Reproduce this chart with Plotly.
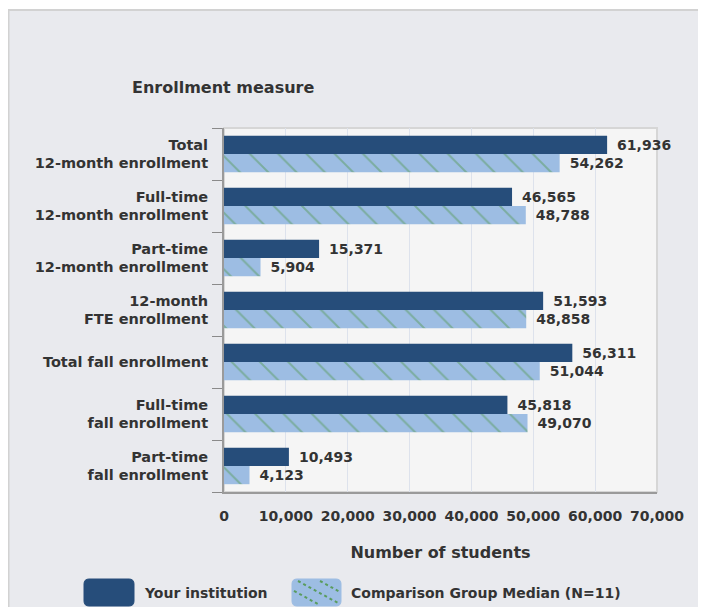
import plotly.graph_objects as go

categories = [
    "Total<br>12-month enrollment",
    "Full-time<br>12-month enrollment",
    "Part-time<br>12-month enrollment",
    "12-month<br>FTE enrollment",
    "Total fall enrollment",
    "Full-time<br>fall enrollment",
    "Part-time<br>fall enrollment",
]
your_institution = [61936, 46565, 15371, 51593, 56311, 45818, 10493]
comparison_median = [54262, 48788, 5904, 48858, 51044, 49070, 4123]
x_ticks = [0, 10000, 20000, 30000, 40000, 50000, 60000, 70000]

DARK = "#264d7a"
LIGHT = "#9dbde3"
DOTS = "#5a9c5e"
TEXT = "#333333"
FONT = "DejaVu Sans, Arial, sans-serif"

# the page body has an 8px margin, so the figure is 16px smaller than the window
OFF = 8
W, H = 706 - 2 * OFF, 615 - 2 * OFF
L, R, T, B = 224 - OFF, W - (657 - OFF), 128 - OFF, H - (492 - OFF)
PW, PH = W - L - R, H - T - B


def px(x):
    # window pixel -> paper x
    return (x - OFF - L) / PW


def py(y):
    # window pixel -> paper y
    return (H - B - (y - OFF)) / PH


fig = go.Figure()

fig.add_trace(go.Bar(
    y=categories,
    x=your_institution,
    orientation="h",
    name="Your institution",
    marker=dict(color=DARK, line=dict(width=0)),
    texttemplate="\u2002<b>%{x:,}</b>",
    textposition="outside",
    textfont=dict(family=FONT, size=14, color=TEXT),
    cliponaxis=False,
    showlegend=False,
))

fig.add_trace(go.Bar(
    y=categories,
    x=comparison_median,
    orientation="h",
    name="Comparison Group Median (N=11)",
    marker=dict(
        color=LIGHT,
        line=dict(width=0),
        pattern=dict(shape="\\", fgcolor=DOTS, bgcolor=LIGHT, size=20, solidity=0.1),
    ),
    texttemplate="\u2002<b>%{x:,}</b>",
    textposition="outside",
    textfont=dict(family=FONT, size=14, color=TEXT),
    cliponaxis=False,
    showlegend=False,
))

# -----------------------
# BACKGROUND PANEL
# -----------------------
shapes = [
    dict(type="rect", xref="paper", yref="paper", layer="below",
         x0=px(8.5), x1=px(720), y0=py(10), y1=py(630),
         fillcolor="#e9eaee", line=dict(color="#d2d2d2", width=2)),
    dict(type="rect", xref="paper", yref="paper", layer="below",
         x0=0, x1=1, y0=0, y1=1,
         fillcolor="#f5f5f5", line=dict(color="#d6d6d6", width=2)),
]

# -----------------------
# LEGEND (custom swatches)
# -----------------------
def rounded(x0, y0, x1, y1, rx, ry):
    return (f"M {x0 + rx},{y0} L {x1 - rx},{y0} Q {x1},{y0} {x1},{y0 - ry} "
            f"L {x1},{y1 + ry} Q {x1},{y1} {x1 - rx},{y1} L {x0 + rx},{y1} "
            f"Q {x0},{y1} {x0},{y1 + ry} L {x0},{y0 - ry} Q {x0},{y0} {x0 + rx},{y0} Z")


def swatch(x0, x1, color):
    return dict(type="path", xref="paper", yref="paper",
                path=rounded(px(x0), py(579), px(x1), py(606), 5 / PW, 5 / PH),
                fillcolor=color, line=dict(color=color, width=1))


shapes.append(swatch(84, 134, DARK))
shapes.append(swatch(292, 341, LIGHT))
for sx in [276, 298, 320]:
    a = max(sx, 294)
    b = min(sx + 44, 339)
    shapes.append(dict(type="line", xref="paper", yref="paper",
                       x0=px(a), y0=py(581 + (a - sx) * 0.55),
                       x1=px(b), y1=py(581 + (b - sx) * 0.55),
                       line=dict(color=DOTS, width=2, dash="dot")))

annotations = [
    dict(text="<b>Enrollment measure</b>", xref="paper", yref="paper",
         x=px(223), y=py(88), xanchor="center", yanchor="middle",
         showarrow=False, font=dict(family=FONT, size=16, color=TEXT)),
    dict(text="<b>Your institution</b>", xref="paper", yref="paper",
         x=px(142), y=py(593), xanchor="left", yanchor="middle",
         showarrow=False, font=dict(family=FONT, size=14, color=TEXT)),
    dict(text="<b>Comparison Group Median (N=11)</b>", xref="paper", yref="paper",
         x=px(349), y=py(593), xanchor="left", yanchor="middle",
         showarrow=False, font=dict(family=FONT, size=14, color=TEXT)),
]

fig.update_layout(
    width=W,
    height=H,
    margin=dict(l=L, r=R, t=T, b=B, pad=0),
    paper_bgcolor="white",
    plot_bgcolor="rgba(0,0,0,0)",
    barmode="group",
    bargap=0.3,
    bargroupgap=0,
    font=dict(family=FONT, color=TEXT, size=14),
    shapes=shapes,
    annotations=annotations,
    xaxis=dict(
        range=[0, 70000],
        tickvals=x_ticks,
        ticktext=[f"<b>{v:,}</b>" for v in x_ticks],
        tickfont=dict(family=FONT, size=14, color=TEXT),
        ticks="",
        ticklabelstandoff=10,
        showgrid=True,
        gridcolor="#dde2ec",
        gridwidth=1,
        zeroline=False,
        showline=True,
        linecolor="#9a9a9a",
        linewidth=2,
        title=dict(text="<b>Number of students</b>",
                   font=dict(family=FONT, size=16, color=TEXT), standoff=24),
    ),
    yaxis=dict(
        autorange="reversed",
        tickmode="array",
        tickvals=categories,
        ticktext=[f"<b>{c}</b>" for c in categories],
        tickfont=dict(family=FONT, size=14.5, color=TEXT),
        tickson="boundaries",
        ticks="outside",
        ticklen=10,
        tickcolor="#8a8a8a",
        ticklabelstandoff=11,
        showgrid=False,
        zeroline=False,
        showline=True,
        linecolor="#9a9a9a",
        linewidth=2,
    ),
)

fig.write_html("out.html")
